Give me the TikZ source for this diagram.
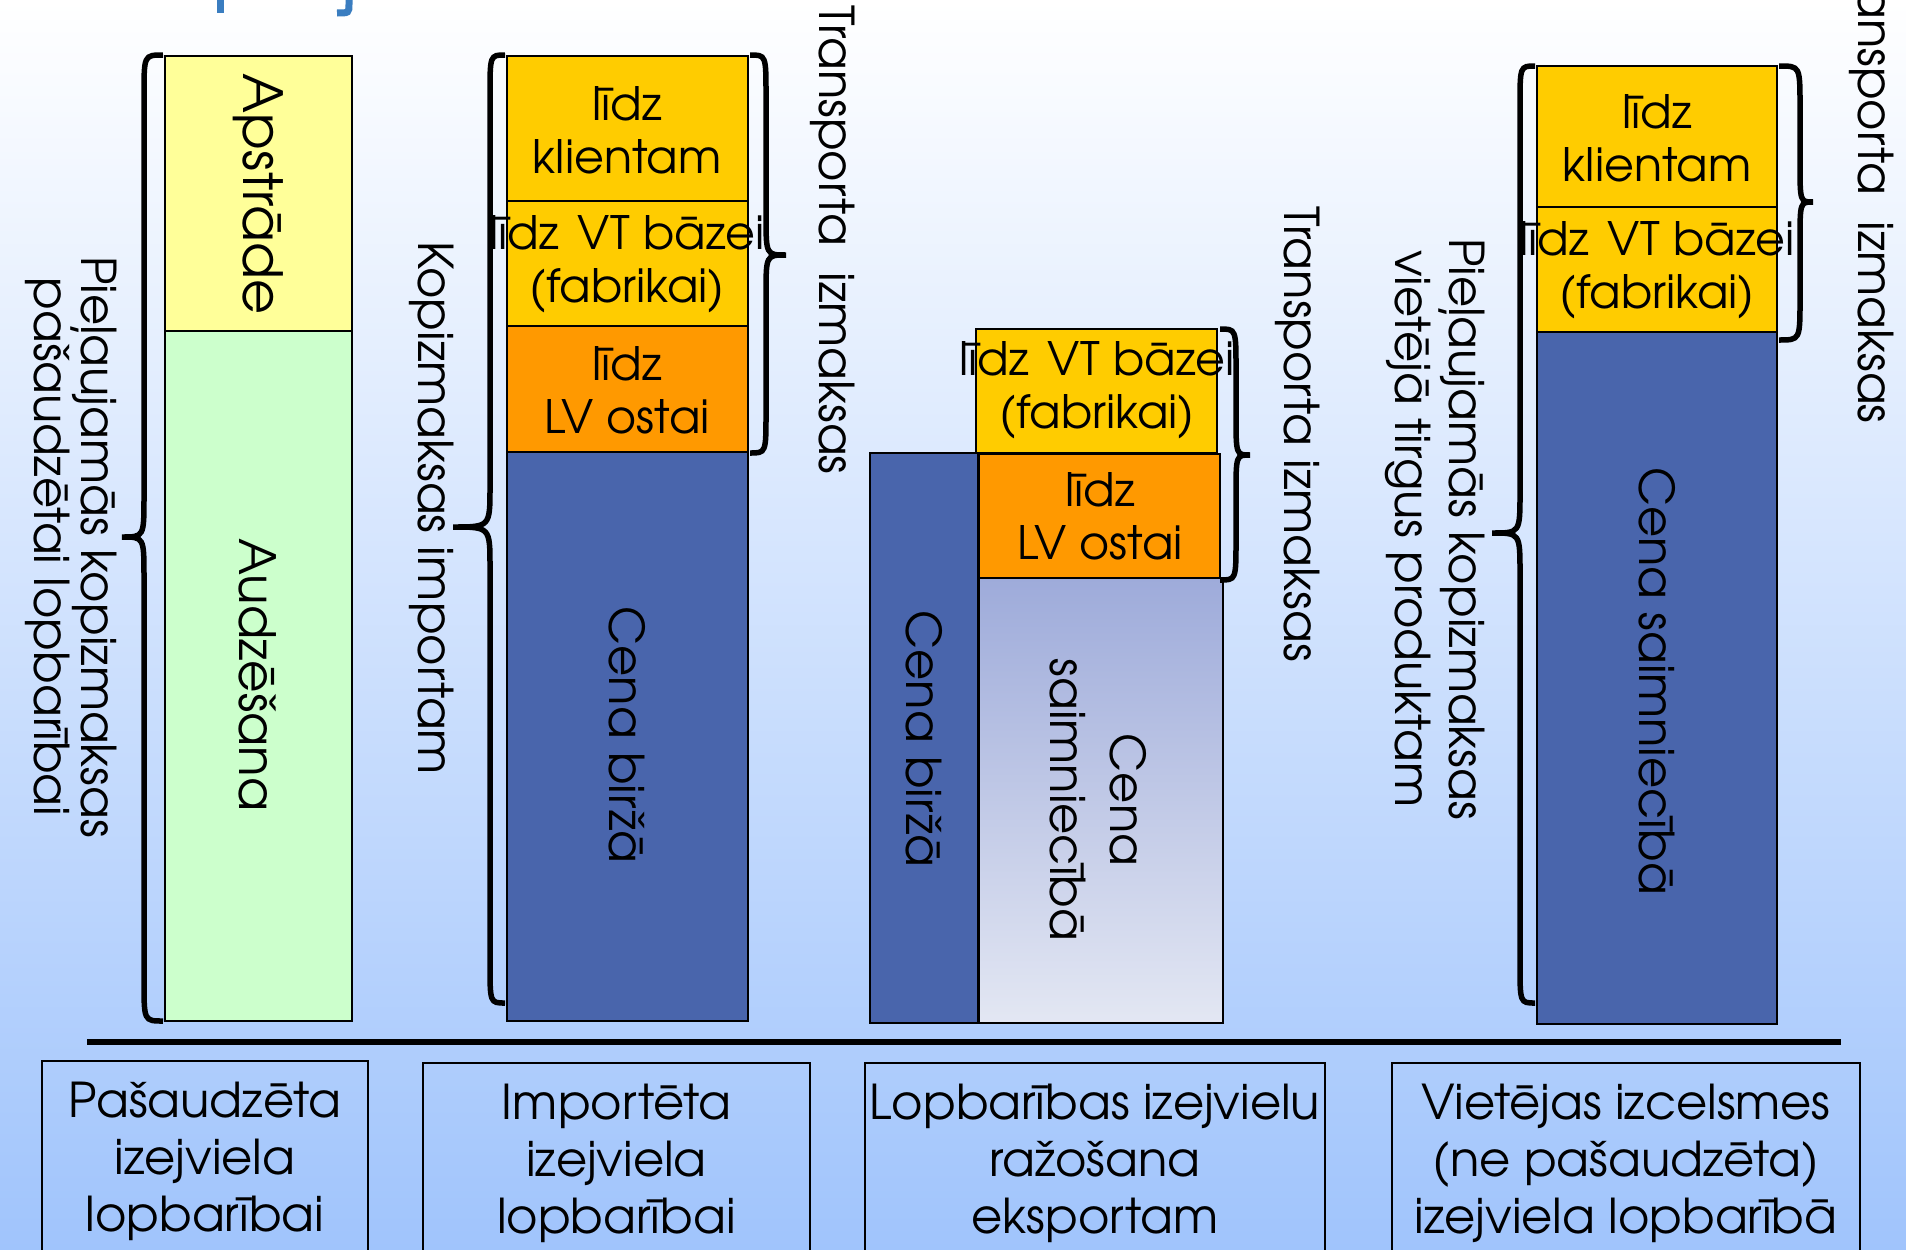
\documentclass[tikz,border=0pt]{standalone}
\usepackage{fontspec}
\setmainfont{TeX Gyre Adventor}
\definecolor{bgblue}{RGB}{160,196,252}
\definecolor{paleyellow}{RGB}{255,255,153}
\definecolor{palegreen}{RGB}{204,255,204}
\definecolor{gold}{RGB}{255,204,0}
\definecolor{portorange}{RGB}{255,153,0}
\definecolor{exchblue}{RGB}{73,101,172}
\definecolor{farmtop}{RGB}{158,171,218}
\definecolor{farmbot}{RGB}{227,231,243}
\definecolor{titleblue}{RGB}{58,125,192}
\tikzset{
  bar/.style={draw, line width=2pt},
  brc/.style={line width=5.5pt},
  lbl/.style={align=center, inner sep=0pt, font=\fontsize{46}{53}\selectfont},
  vlbl/.style={align=center, inner sep=0pt, rotate=-90, font=\fontsize{48}{50}\selectfont},
  srcbox/.style={draw, line width=1.8pt, inner sep=0pt, anchor=north west,
    minimum width=#1, minimum height=200, align=center, font=\fontsize{48}{57}\selectfont}
}
% curly brace: end x, spine x, tip x, top y, tip y, bottom y
\newcommand{\curly}[6]{%
  \draw[brc] (#1,#4) .. controls (#2,#4) .. (#2,{#4+40}) -- (#2,{#5-40})
    .. controls (#2,#5) .. (#3,#5) .. controls (#2,#5) .. (#2,{#5+40})
    -- (#2,{#6-40}) .. controls (#2,#6) .. (#1,#6);}

\begin{document}
\begin{tikzpicture}[x=1pt, y=-1pt]
  % Background
  \useasboundingbox (0,0) rectangle (1906,1250);
  \clip (0,0) rectangle (1906,1250);
  \shade[top color=white, bottom color=bgblue] (0,0) rectangle (1906,1250);

  % Title (cut off)
  \draw[titleblue, line width=7pt] (220,-5) -- (220,13);
  \draw[titleblue, line width=7pt] (349,-5) -- (349,4) .. controls (349,13) .. (337,13);

  % Own feed
  \filldraw[fill=paleyellow, bar] (165,56) rectangle (352,331);
  \filldraw[fill=palegreen, bar] (165,331) rectangle (352,1021);
  \node[vlbl, font=\fontsize{54}{58}\selectfont] (apstr) at (258,194) {Apstrāde};
  \node[vlbl, font=\fontsize{50}{58}\selectfont] (audz) at (258,675) {Audzēšana};
  \curly{163}{144}{122}{55}{537}{1021}
  \node[vlbl, font=\fontsize{48}{44}\selectfont] (allow1) at (71,547) {Pieļaujamās kopizmaksas\\pašaudzētai lopbarībai};

  % Imported feed
  \filldraw[fill=gold, bar] (507,56) rectangle (748,201);
  \filldraw[fill=gold, bar] (507,201) rectangle (748,326);
  \filldraw[fill=portorange, bar] (507,326) rectangle (748,452);
  \filldraw[fill=exchblue, bar] (507,452) rectangle (748,1021);
  \node[lbl] (kl2) at (627,130) {līdz\\klientam};
  \node[lbl] (vt2) at (627,264) {līdz\hspace{0.4em}VT bāzei\\(fabrikai)};
  \node[lbl] (lv2) at (627,390) {līdz\\LV ostai};
  \node[vlbl] (birza2) at (627,735) {Cena biržā};
  \curly{505}{490}{453}{55}{527}{1003}
  \node[vlbl] (imp) at (432,508) {Kopizmaksas importam};
  \curly{750}{766}{786}{55}{255}{453}
  \node[vlbl] (tr2) at (833,240) {Transporta\ \ izmaksas};

  % Export production
  \filldraw[fill=exchblue, bar] (870,453) rectangle (978,1023);
  \filldraw[fill=gold, bar] (976,329) rectangle (1217,453);
  \filldraw[fill=portorange, bar] (979,454) rectangle (1220,578);
  \shade[top color=farmtop, bottom color=farmbot] (979,578) rectangle (1223,1023);
  \draw[bar] (979,578) rectangle (1223,1023);
  \node[vlbl] (birza3) at (924,739) {Cena biržā};
  \node[lbl] (vt3) at (1097,390) {līdz\hspace{0.4em}VT bāzei\\(fabrikai)};
  \node[lbl] (lv3) at (1100,516) {līdz\\LV ostai};
  \node[vlbl, font=\fontsize{48}{60}\selectfont] (farm3) at (1098,800) {Cena\\saimniecībā};
  \curly{1220}{1236}{1250}{329}{455}{580}
  \node[vlbl] (tr3) at (1298,434) {Transporta izmaksas};

  % Local product
  \filldraw[fill=gold, bar] (1537,66) rectangle (1777,207);
  \filldraw[fill=gold, bar] (1537,207) rectangle (1777,332);
  \filldraw[fill=exchblue, bar] (1537,332) rectangle (1777,1024);
  \node[lbl] (kl4) at (1657,138) {līdz\\klientam};
  \node[lbl] (vt4) at (1657,270) {līdz\hspace{0.4em}VT bāzei\\(fabrikai)};
  \node[vlbl] (farm4) at (1657,681) {Cena saimniecībā};
  \curly{1535}{1520}{1492}{66}{533}{1003}
  \node[vlbl, font=\fontsize{48}{54}\selectfont] (allow4) at (1435,529) {Pieļaujamās kopizmaksas\\vietējā tirgus produktam};
  \curly{1779}{1800}{1813}{66}{202}{340}
  \node[vlbl] (tr4) at (1872,189) {Transporta\ \ izmaksas};

  % Baseline and sources
  \draw[line width=6pt] (87,1042) -- (1841,1042);
  \node[srcbox=326] (src1) at (41,1060) {Pašaudzēta\\izejviela\\lopbarībai};
  \node[srcbox=387] (src2) at (422,1062) {Importēta\\izejviela\\lopbarībai};
  \node[srcbox=460] (src3) at (864,1062) {Lopbarības izejvielu\\ražošana\\eksportam};
  \node[srcbox=468] (src4) at (1391,1062) {Vietējas izcelsmes\\(ne pašaudzēta)\\izejviela lopbarībā};
\end{tikzpicture}
\end{document}
